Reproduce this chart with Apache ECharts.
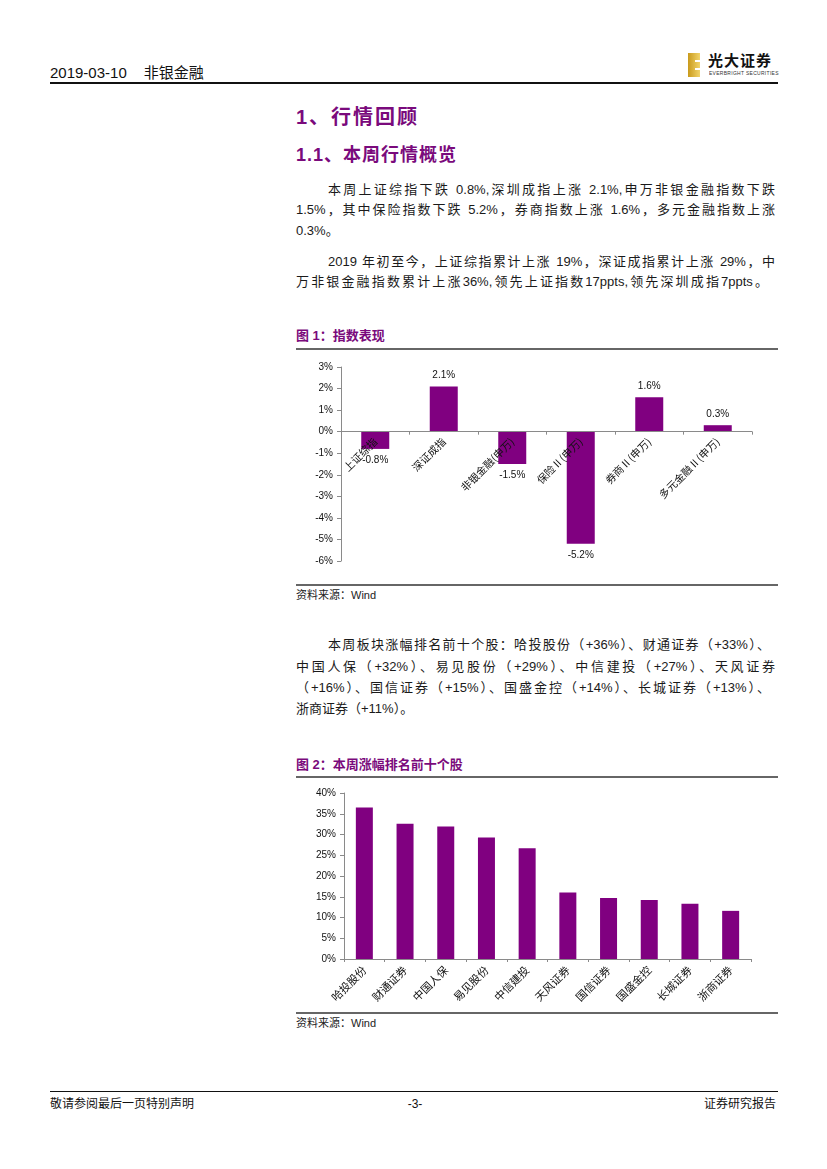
<!DOCTYPE html>
<html><head><meta charset="utf-8">
<script src="https://cdn.jsdelivr.net/npm/echarts@6/dist/echarts.min.js"></script>
<style>
body{margin:0;background:#fff;}
#page{position:relative;width:827px;height:1169px;overflow:hidden;font-family:"Liberation Sans","Noto Sans CJK SC",sans-serif;color:#1a1a1a;background:#fff;}
.abs{position:absolute;white-space:nowrap;}
.hr{position:absolute;}
.t{position:absolute;font-size:13px;line-height:16px;height:16px;white-space:nowrap;color:#1a1a1a;}
.j{text-align:justify;text-align-last:justify;white-space:normal;overflow:hidden;}
.h{position:absolute;white-space:nowrap;color:#7a0a7c;font-weight:bold;font-family:"Liberation Sans","Noto Sans CJK SC",sans-serif;}
.cap{position:absolute;white-space:nowrap;color:#7a0a7c;font-weight:bold;font-size:13px;line-height:16px;}
.src{position:absolute;white-space:nowrap;font-size:11px;line-height:14px;color:#222;}
</style>
</head><body>
<div id="page">
  <!-- header -->
  <div class="abs" style="left:50px;top:64px;font-size:15px;line-height:18px;color:#111;">2019-03-10<span style="display:inline-block;width:17px;"></span>非银金融</div>
  <div class="hr" style="left:50px;top:82px;width:728px;height:1.5px;background:#111;"></div>
  <!-- logo -->
  <div class="abs" style="left:688px;top:53px;width:12px;height:24px;background:linear-gradient(90deg,#c99a1c,#f2d46a);"></div>
  <div class="abs" style="left:695px;top:60px;width:5px;height:2px;background:#fff;"></div>
  <div class="abs" style="left:695px;top:68px;width:5px;height:2px;background:#fff;"></div>
  <div class="abs" style="left:708px;top:51px;font-size:15px;line-height:18px;font-weight:bold;color:#111;letter-spacing:1px;font-family:'Noto Sans CJK SC',sans-serif;">光大证券</div>
  <div class="abs" style="left:709px;top:71px;font-size:8px;line-height:8px;color:#333;transform:scale(0.62);transform-origin:0 0;letter-spacing:0.5px;">EVERBRIGHT SECURITIES</div>

  <!-- headings -->
  <div class="h" style="left:296px;top:105px;font-size:20px;line-height:24px;letter-spacing:2px;">1、行情回顾</div>
  <div class="h" style="left:296px;top:144px;font-size:18px;line-height:22px;letter-spacing:1px;">1.1、本周行情概览</div>

  <!-- paragraph 1 -->
  <div class="t j" style="left:328px;top:182px;width:447px;">本周上证综指下跌 0.8%,深圳成指上涨 2.1%,申万非银金融指数下跌</div>
  <div class="t j" style="left:296px;top:202px;width:479px;">1.5%，其中保险指数下跌 5.2%，券商指数上涨 1.6%，多元金融指数上涨</div>
  <div class="t" style="left:296px;top:223px;">0.3%。</div>
  <!-- paragraph 2 -->
  <div class="t j" style="left:328px;top:254px;width:447px;">2019 年初至今，上证综指累计上涨 19%，深证成指累计上涨 29%，中</div>
  <div class="t j" style="left:296px;top:274px;width:472px;">万非银金融指数累计上涨36%,领先上证指数17ppts,领先深圳成指7ppts。</div>

  <!-- figure 1 -->
  <div class="cap" style="left:296px;top:328px;">图 1：指数表现</div>
  <div class="hr" style="left:296px;top:348px;width:482px;height:2px;background:#666;"></div>
  <div id="c1" style="position:absolute;left:296px;top:355px;width:482px;height:225px;"></div>
  <div class="hr" style="left:296px;top:584px;width:482px;height:2px;background:#666;"></div>
  <div class="src" style="left:296px;top:588px;">资料来源：Wind</div>

  <!-- paragraph 3 -->
  <div class="t j" style="left:328px;top:637px;width:442px;">本周板块涨幅排名前十个股：哈投股份（+36%）、财通证券（+33%）、</div>
  <div class="t j" style="left:296px;top:659px;width:479px;">中国人保（+32%）、易见股份（+29%）、中信建投（+27%）、天风证券</div>
  <div class="t j" style="left:296px;top:680px;width:474px;">（+16%）、国信证券（+15%）、国盛金控（+14%）、长城证券（+13%）、</div>
  <div class="t" style="left:296px;top:701px;">浙商证券（+11%）。</div>

  <!-- figure 2 -->
  <div class="cap" style="left:296px;top:757px;">图 2：本周涨幅排名前十个股</div>
  <div class="hr" style="left:296px;top:776px;width:482px;height:2px;background:#666;"></div>
  <div id="c2" style="position:absolute;left:296px;top:783px;width:482px;height:225px;"></div>
  <div class="hr" style="left:296px;top:1012px;width:482px;height:2px;background:#666;"></div>
  <div class="src" style="left:296px;top:1016px;">资料来源：Wind</div>

  <!-- footer -->
  <div class="hr" style="left:50px;top:1091px;width:728px;height:1px;background:#111;"></div>
  <div class="abs" style="left:50px;top:1097px;font-size:12px;line-height:14px;color:#111;">敬请参阅最后一页特别声明</div>
  <div class="abs" style="left:404px;top:1097px;width:22px;text-align:center;font-size:12px;line-height:14px;color:#111;">-3-</div>
  <div class="abs" style="right:51px;top:1097px;font-size:12px;line-height:14px;color:#111;">证券研究报告</div>
</div>
<script>
// ---- Figure 1 data ----
const idxCategories = ['上证综指','深证成指','非银金融(申万)','保险Ⅱ(申万)','券商Ⅱ(申万)','多元金融Ⅱ(申万)'];
const idxValues = [-0.8, 2.1, -1.5, -5.2, 1.6, 0.3];
const idxAxisMin = -6, idxAxisMax = 3, idxAxisStep = 1;

// ---- Figure 2 data ----
const stockCategories = ['哈投股份','财通证券','中国人保','易见股份','中信建投','天风证券','国信证券','国盛金控','长城证券','浙商证券'];
const stockValues = [36.5, 32.6, 31.9, 29.3, 26.7, 16.0, 14.7, 14.2, 13.3, 11.6];
const stockAxisMin = 0, stockAxisMax = 40, stockAxisStep = 5;

const PURPLE = '#800080';
const AXIS = '#8a8a8a';
const NUMFONT = '"Liberation Sans", Arial, sans-serif';
const CJKFONT = '"Noto Sans CJK SC", sans-serif';

function baseAxes(cats, min, max, step, catFont, margin) {
  return {
    xAxis: {
      type: 'category', data: cats, z: 5,
      axisLine: { show: true, onZero: false, lineStyle: { color: AXIS, width: 1 } },
      axisTick: { show: true, length: 3, lineStyle: { color: AXIS } },
      axisLabel: { interval: 0, rotate: 45, margin: margin, color: '#111', fontSize: catFont, fontFamily: CJKFONT },
      splitLine: { show: false }
    },
    yAxis: {
      type: 'value', min: min, max: max, interval: step,
      axisLine: { show: true, lineStyle: { color: AXIS, width: 1 } },
      axisTick: { show: true, length: 4, lineStyle: { color: AXIS } },
      axisLabel: { formatter: '{value}%', color: '#111', fontSize: 10, fontFamily: NUMFONT, margin: 8 },
      splitLine: { show: false }
    }
  };
}

const c1 = echarts.init(document.getElementById('c1'));
const o1 = baseAxes(idxCategories, idxAxisMin, idxAxisMax, idxAxisStep, 10.5, 8);
c1.setOption(Object.assign({
  animation: false,
  grid: { left: 45, right: 26, top: 12, bottom: 19, containLabel: false, outerBoundsMode: 'none' },
  series: [{
    type: 'bar', barWidth: 28,
    itemStyle: { color: PURPLE },
    data: idxValues.map(v => ({
      value: v,
      label: { show: true, position: v >= 0 ? 'top' : 'bottom', distance: 6,
               formatter: p => p.value.toFixed(1) + '%', color: '#111', fontSize: 10, fontFamily: NUMFONT }
    }))
  }]
}, o1));
// move the category axis (line, ticks and labels) up to the value-axis zero line
const zeroPx = c1.convertToPixel({ yAxisIndex: 0 }, 0);
const minPx = c1.convertToPixel({ yAxisIndex: 0 }, idxAxisMin);
c1.setOption({ xAxis: { offset: zeroPx - minPx } });

const c2 = echarts.init(document.getElementById('c2'));
const o2 = baseAxes(stockCategories, stockAxisMin, stockAxisMax, stockAxisStep, 11, 9);
c2.setOption(Object.assign({
  animation: false,
  grid: { left: 48, right: 27, top: 10, bottom: 49, containLabel: false, outerBoundsMode: 'none' },
  series: [{
    type: 'bar', barWidth: 17,
    itemStyle: { color: PURPLE },
    data: stockValues
  }]
}, o2));
</script>
</body></html>
